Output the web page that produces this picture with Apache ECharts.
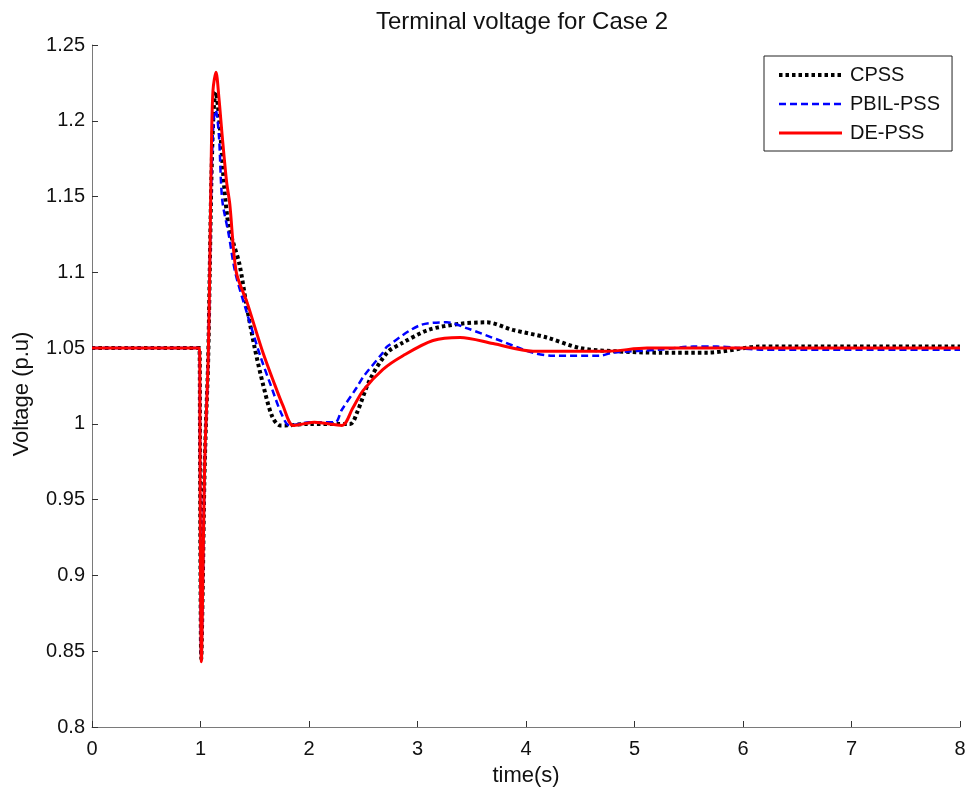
<!DOCTYPE html>
<html>
<head>
<meta charset="utf-8">
<title>Terminal voltage for Case 2</title>
<script src="https://cdn.jsdelivr.net/npm/echarts@6/dist/echarts.min.js"></script>
<style>
  html, body { margin: 0; padding: 0; background: #fff; }
  #chart { width: 972px; height: 795px; }
</style>
</head>
<body>
<div id="chart"></div>
<script>
// Terminal voltage (p.u.) after the disturbance at t = 1 s, three stabiliser designs.
const seriesNames = ['CPSS', 'PBIL-PSS', 'DE-PSS'];

const cpssTime = [0, 0.99, 0.995, 1.0, 1.007, 1.02, 1.035, 1.05, 1.07, 1.085, 1.10, 1.12, 1.14, 1.16, 1.19, 1.22, 1.26, 1.30, 1.36, 1.42, 1.5, 1.58, 1.66, 1.73, 1.78, 2.0, 2.38, 2.44, 2.56, 2.72, 2.85, 3.1, 3.39, 3.64, 3.88, 4.19, 4.5, 4.8, 5.24, 5.67, 6.16, 8];
const cpssVolt = [1.05, 1.05, 1.0, 0.9, 0.845, 0.89, 0.96, 1.0, 1.04, 1.1, 1.16, 1.205, 1.219, 1.21, 1.185, 1.155, 1.13, 1.12, 1.105, 1.08, 1.05, 1.025, 1.005, 0.999, 0.999, 1.0, 1.0, 1.007, 1.029, 1.047, 1.053, 1.062, 1.066, 1.067, 1.062, 1.057, 1.05, 1.048, 1.047, 1.047, 1.051, 1.051];

const pbilTime = [0, 0.99, 0.995, 1.0, 1.007, 1.02, 1.035, 1.05, 1.07, 1.085, 1.10, 1.12, 1.14, 1.17, 1.2, 1.26, 1.32, 1.42, 1.55, 1.65, 1.75, 1.82, 2.0, 2.24, 2.3, 2.44, 2.5, 2.68, 2.72, 3.02, 3.27, 3.46, 3.76, 4.06, 4.25, 4.68, 4.8, 5.24, 5.54, 5.76, 6.16, 8];
const pbilVolt = [1.05, 1.05, 1.0, 0.9, 0.845, 0.89, 0.96, 1.0, 1.04, 1.1, 1.16, 1.2, 1.207, 1.19, 1.148, 1.125, 1.1, 1.075, 1.045, 1.025, 1.006, 0.999, 1.001, 1.001, 1.009, 1.024, 1.031, 1.047, 1.051, 1.065, 1.067, 1.063, 1.055, 1.047, 1.045, 1.045, 1.047, 1.049, 1.051, 1.051, 1.049, 1.049];

const deTime = [0, 0.99, 0.995, 1.0, 1.008, 1.02, 1.035, 1.045, 1.07, 1.085, 1.10, 1.115, 1.143, 1.17, 1.2, 1.24, 1.27, 1.33, 1.43, 1.5, 1.576, 1.668, 1.76, 1.853, 1.95, 2.05, 2.304, 2.4, 2.498, 2.682, 2.866, 3.143, 3.392, 3.696, 4.065, 4.4, 4.747, 5.115, 8];
const deVolt = [1.05, 1.05, 1.0, 0.9, 0.843, 0.89, 0.96, 0.99, 1.04, 1.10, 1.18, 1.22, 1.232, 1.215, 1.19, 1.16, 1.145, 1.1, 1.08, 1.064, 1.047, 1.029, 1.012, 0.999, 1.0, 1.001, 0.999, 1.01, 1.022, 1.036, 1.045, 1.055, 1.057, 1.053, 1.048, 1.048, 1.048, 1.05, 1.05];

const yTicks = { min: 0.8, max: 1.25, step: 0.05 };
const xTicks = { min: 0, max: 8, step: 1 };

const pairs = (t, v) => t.map((x, i) => [x, v[i]]);

const FONT = '"Liberation Sans", Arial, Helvetica, sans-serif';
const AXIS_GREY = '#7a7a7a';

// Line looks shared by each series and its legend entry
const looks = [
  { color: '#000000', width: 4, type: [3.5, 3] },
  { color: '#0000ff', width: 2.5, type: [7, 4] },
  { color: '#ff0000', width: 3, type: 'solid' }
];

const chart = echarts.init(document.getElementById('chart'), null, { renderer: 'canvas' });

chart.setOption({
  animation: false,
  backgroundColor: '#ffffff',
  title: {
    text: 'Terminal voltage for Case 2',
    left: 371,
    top: 5,
    textStyle: { fontFamily: FONT, fontSize: 24, fontWeight: 'normal', color: '#111' }
  },
  grid: { left: 92, right: 12, top: 45, bottom: 68, containLabel: false },
  legend: {
    left: 764,
    top: 56,
    orient: 'vertical',
    padding: [9, 12, 8, 13],
    itemWidth: 63,
    itemHeight: 20,
    itemGap: 9,
    borderColor: '#222',
    borderWidth: 1,
    backgroundColor: '#fff',
    itemStyle: { opacity: 0 },
    textStyle: { fontFamily: FONT, fontSize: 20, color: '#111', lineHeight: 20, padding: [0, 0, 0, 3] },
    data: seriesNames.map((name, i) => ({
      name,
      lineStyle: { width: looks[i].width, type: looks[i].type, color: looks[i].color }
    }))
  },
  xAxis: {
    type: 'value',
    min: xTicks.min,
    max: xTicks.max,
    interval: xTicks.step,
    name: 'time(s)',
    nameLocation: 'middle',
    nameGap: 38,
    nameTextStyle: { fontFamily: FONT, fontSize: 22, color: '#111' },
    axisLine: { show: true, lineStyle: { color: AXIS_GREY, width: 1 } },
    axisTick: { show: true, inside: true, length: 6, lineStyle: { color: '#333' } },
    axisLabel: { fontFamily: FONT, fontSize: 20, color: '#111', margin: 12 },
    splitLine: { show: false }
  },
  yAxis: {
    type: 'value',
    min: yTicks.min,
    max: yTicks.max,
    interval: yTicks.step,
    name: 'Voltage (p.u)',
    nameLocation: 'middle',
    nameGap: 59,
    nameTextStyle: { fontFamily: FONT, fontSize: 22, color: '#111', padding: [0, 16, 0, 0] },
    axisLine: { show: true, lineStyle: { color: AXIS_GREY, width: 1 } },
    axisTick: { show: true, inside: true, length: 6, lineStyle: { color: '#333' } },
    axisLabel: {
      fontFamily: FONT, fontSize: 20, color: '#111', margin: 7,
      formatter: v => String(parseFloat(v.toFixed(2)))
    },
    splitLine: { show: false }
  },
  series: [
    [cpssTime, cpssVolt],
    [pbilTime, pbilVolt],
    [deTime, deVolt]
  ].map(([t, v], i) => ({
    name: seriesNames[i],
    type: 'line',
    data: pairs(t, v),
    symbol: 'none',
    smooth: 0.3,
    lineStyle: { color: looks[i].color, width: looks[i].width, type: looks[i].type },
    itemStyle: { color: looks[i].color },
    z: 2 + i
  }))
});
</script>
</body>
</html>
